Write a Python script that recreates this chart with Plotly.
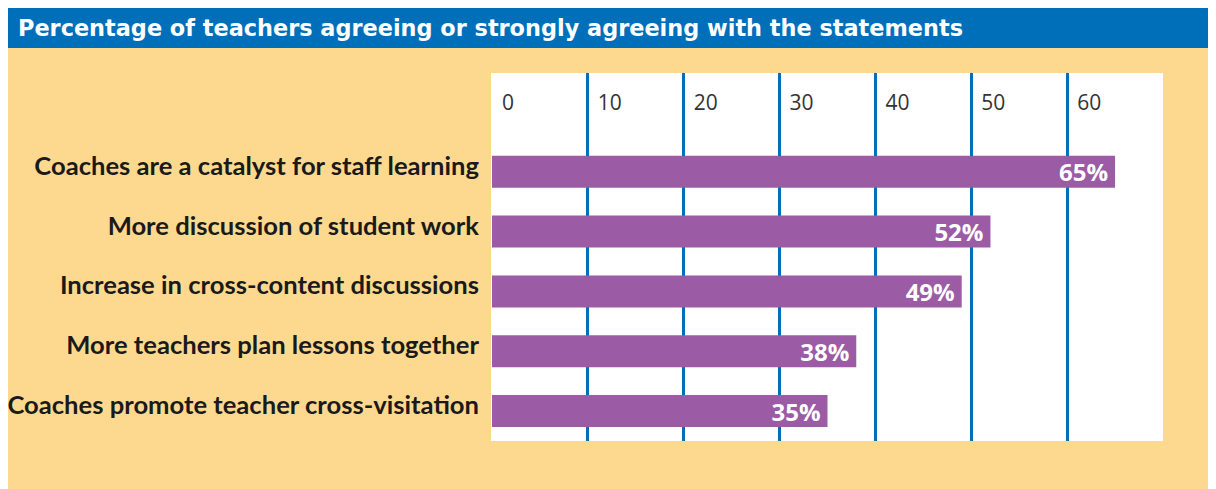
import plotly.graph_objects as go

categories = [
    "Coaches are a catalyst for staff learning",
    "More discussion of student work",
    "Increase in cross-content discussions",
    "More teachers plan lessons together",
    "Coaches promote teacher cross-visitation",
]
values = [65, 52, 49, 38, 35]
tick_values = [0, 10, 20, 30, 40, 50, 60]
tick_labels = ["0", "10", "20", "30", "40", "50", "60"]
title_text = "Percentage of teachers agreeing or strongly agreeing with the statements"

# figure is placed by the page with an 8px body margin
W, H = 1208, 481
BLUE = "#006FB9"
TAN = "#FDD98F"
PURPLE = "#9B5BA5"

fig = go.Figure(
    go.Bar(
        x=values,
        y=categories,
        orientation="h",
        marker=dict(color=PURPLE, line=dict(width=0)),
        width=0.535,
        text=[f"{v}%\u2009" for v in values],
        textposition="inside",
        insidetextanchor="end",
        constraintext="none",
        textangle=0,
        textfont=dict(family="Open Sans", size=24, color="white", weight="bold"),
        cliponaxis=False,
        hoverinfo="skip",
    )
)

# plot area in figure pixels
px_l, px_r, py_t, py_b = 484, 1155, 65, 433

fig.update_layout(
    width=W,
    height=H,
    margin=dict(l=0, r=0, t=0, b=0, autoexpand=False),
    paper_bgcolor=TAN,
    plot_bgcolor="white",
    showlegend=False,
    uniformtext=dict(mode=False),
    shapes=[
        dict(type="rect", xref="paper", yref="paper", x0=0, x1=1, y0=1 - 40 / H, y1=1,
             fillcolor=BLUE, line=dict(width=0), layer="below"),
    ],
    annotations=[
        dict(text=title_text, xref="paper", yref="paper", x=8 / W, y=1 - 20 / H,
             xanchor="left", yanchor="middle", showarrow=False,
             font=dict(family="DejaVu Sans", size=22.4, color="white", weight="bold")),
    ],
    xaxis=dict(
        domain=[px_l / W, px_r / W],
        range=[0, 70],
        automargin=False,
        side="top",
        tickvals=tick_values,
        ticktext=tick_labels,
        ticklabelposition="inside right",
        ticklabelstandoff=16,
        ticklabelshift=10,
        ticks="",
        showgrid=True,
        gridcolor=BLUE,
        gridwidth=2.5,
        zeroline=True,
        zerolinecolor="white",
        zerolinewidth=3,
        showline=False,
        tickfont=dict(family="Open Sans", size=21, color="#333333"),
        fixedrange=True,
    ),
    yaxis=dict(
        domain=[1 - py_b / H, 1 - py_t / H],
        range=[4.5, -1.65],
        automargin=False,
        type="category",
        categoryorder="array",
        categoryarray=categories,
        ticks="",
        showgrid=False,
        zeroline=False,
        showline=False,
        ticklabelstandoff=12,
        ticklabelshift=6,
        tickfont=dict(family="Lato", size=25.6, color="#1a1a1a", weight="bold"),
        fixedrange=True,
    ),
)

fig.write_html("out.html")
